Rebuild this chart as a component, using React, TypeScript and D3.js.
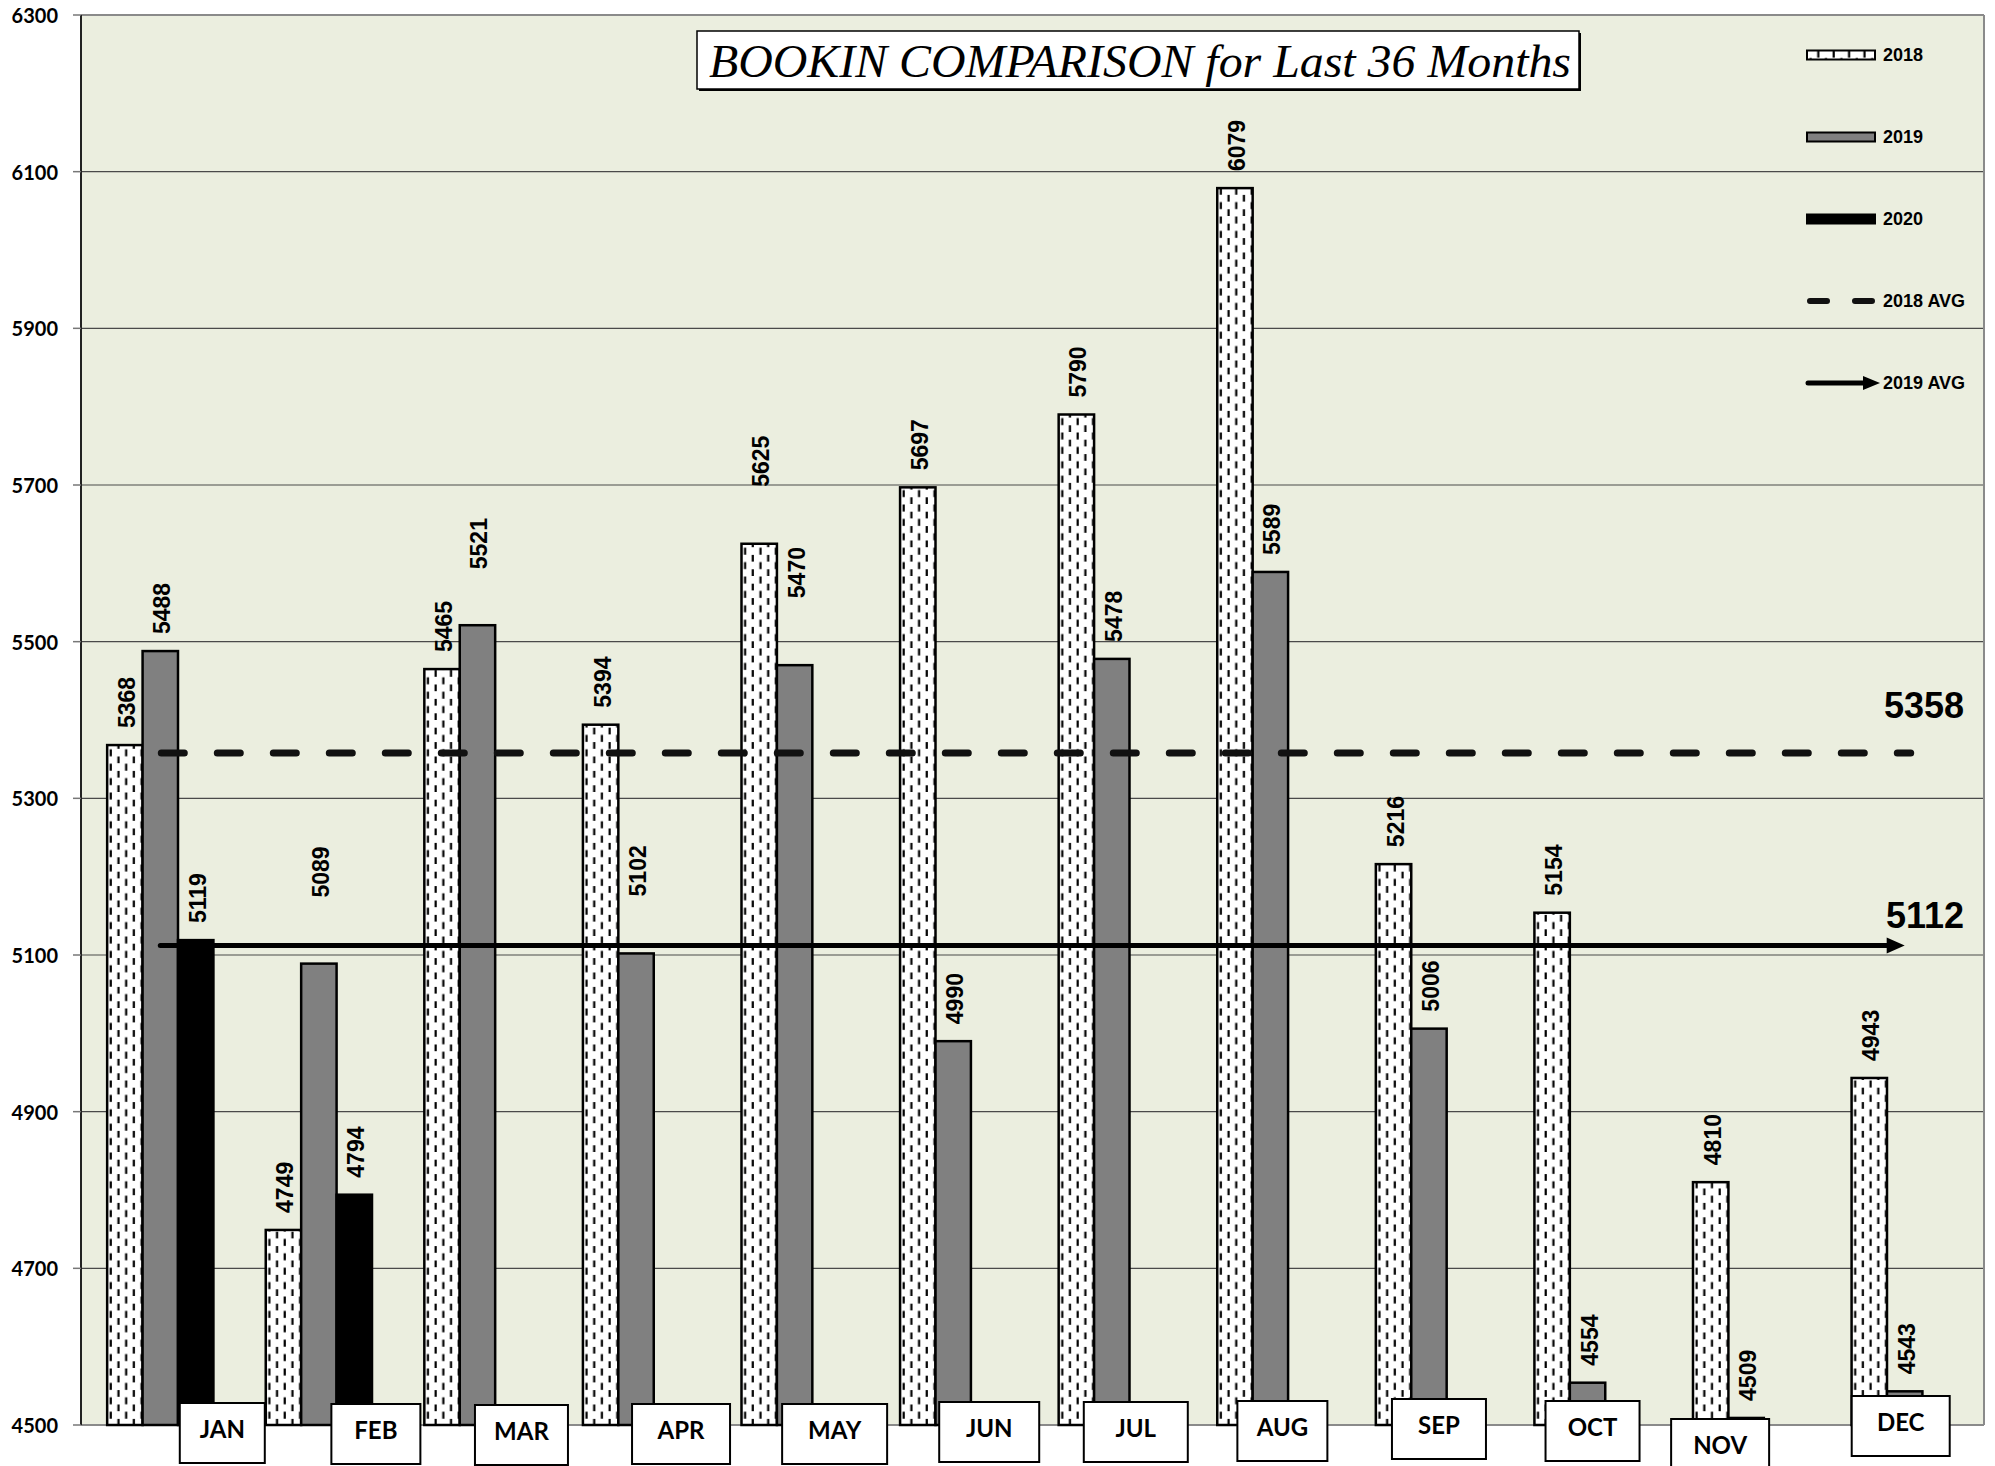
import React, { useEffect, useRef } from "react";
import * as d3 from "d3";

const months = ["JAN", "FEB", "MAR", "APR", "MAY", "JUN", "JUL", "AUG", "SEP", "OCT", "NOV", "DEC"];
const seriesNames = ["2018", "2019", "2020"];
const values2018 = [5368, 4749, 5465, 5394, 5625, 5697, 5790, 6079, 5216, 5154, 4810, 4943];
const values2019 = [5488, 5089, 5521, 5102, 5470, 4990, 5478, 5589, 5006, 4554, 4509, 4543];
const values2020 = [5119, 4794, null, null, null, null, null, null, null, null, null, null];
const avg2018 = 5358;
const avg2019 = 5112;
const yTicks = [4500, 4700, 4900, 5100, 5300, 5500, 5700, 5900, 6100, 6300];
const legendNames = ["2018", "2019", "2020", "2018 AVG", "2019 AVG"];

// hand-moved month boxes in the original (dx from band centre, dy from baseline, box width)
const monthBoxes = [
  [62, -22, 85], [57, -21, 89], [44, -20, 93], [45, -21, 98], [40, -21, 105], [36, -23, 100],
  [24, -23, 104], [12, -24, 90], [10, -26, 94], [5, -24, 94], [-26, -6, 98], [-4, -29, 98],
];
// value labels that were dragged higher than the rest
const labelLift: Record<string, number> = {
  "FEB-2019": 49, "MAR-2019": 39, "APR-2019": 40, "MAY-2018": 40, "MAY-2019": 50,
};

export default function App() {
  const svgRef = useRef<SVGSVGElement>(null);

  useEffect(() => {
    const svg = d3.select(svgRef.current);
    svg.selectAll("*").remove();

    const plot = { left: 81, right: 1984, top: 15, bottom: 1425 };
    const sans = "'Liberation Sans', Arial, sans-serif";
    const calib = "Lato, 'Open Sans', sans-serif";

    const x0 = d3.scaleBand().domain(months).range([plot.left, plot.right]).paddingInner(0.33).paddingOuter(0.165);
    const x1 = d3.scaleBand().domain(seriesNames).range([0, x0.bandwidth()]);
    const y = d3.scaleLinear().domain([4500, 6300]).range([plot.bottom, plot.top]);

    const table = months.map((m, i) => ({
      month: m,
      bars: [
        { key: "2018", v: values2018[i] },
        { key: "2019", v: values2019[i] },
        { key: "2020", v: values2020[i] },
      ].filter((d) => d.v != null) as { key: string; v: number }[],
    }));

    const defs = svg.append("defs");
    const pat = defs
      .append("pattern")
      .attr("id", "dashv")
      .attr("patternUnits", "userSpaceOnUse")
      .attr("width", 15.4)
      .attr("height", 14.4);
    pat.append("rect").attr("width", 15.4).attr("height", 14.4).attr("fill", "#fff");
    pat.append("rect").attr("x", 2.5).attr("y", 0.5).attr("width", 2.2).attr("height", 7).attr("fill", "#000");
    pat.append("rect").attr("x", 10.2).attr("y", 7.7).attr("width", 2.2).attr("height", 7).attr("fill", "#000");

    const fillOf = (k: string) => (k === "2018" ? "url(#dashv)" : k === "2019" ? "#808080" : "#000");

    // plot area
    svg
      .append("rect")
      .attr("x", plot.left)
      .attr("y", plot.top)
      .attr("width", plot.right - plot.left)
      .attr("height", plot.bottom - plot.top)
      .attr("fill", "#ebeedf");

    // gridlines
    svg
      .append("g")
      .selectAll("line")
      .data(yTicks.slice(1, -1))
      .enter()
      .append("line")
      .attr("x1", plot.left)
      .attr("x2", plot.right)
      .attr("y1", (d) => y(d))
      .attr("y2", (d) => y(d))
      .attr("stroke", "#4a4a4a")
      .attr("stroke-width", 1.2);

    // frame
    svg.append("line").attr("x1", plot.left).attr("x2", plot.right).attr("y1", plot.top).attr("y2", plot.top).attr("stroke", "#8a8a8a").attr("stroke-width", 2);
    svg.append("line").attr("x1", plot.right).attr("x2", plot.right).attr("y1", plot.top).attr("y2", plot.bottom).attr("stroke", "#8a8a8a").attr("stroke-width", 2);
    svg.append("line").attr("x1", plot.left).attr("x2", plot.right).attr("y1", plot.bottom).attr("y2", plot.bottom).attr("stroke", "#8a8a8a").attr("stroke-width", 2);

    // bars
    const groups = svg
      .append("g")
      .selectAll("g")
      .data(table)
      .enter()
      .append("g")
      .attr("transform", (d) => `translate(${x0(d.month)},0)`);

    groups
      .selectAll("rect")
      .data((d) => d.bars)
      .enter()
      .append("rect")
      .attr("x", (d) => x1(d.key)!)
      .attr("y", (d) => y(d.v))
      .attr("width", x1.bandwidth())
      .attr("height", (d) => y(4500) - y(d.v))
      .attr("fill", (d) => fillOf(d.key))
      .attr("stroke", "#000")
      .attr("stroke-width", 2.5);

    // left axis
    svg.append("line").attr("x1", plot.left).attr("x2", plot.left).attr("y1", plot.top).attr("y2", plot.bottom).attr("stroke", "#222").attr("stroke-width", 2);
    svg
      .append("g")
      .selectAll("line")
      .data(yTicks)
      .enter()
      .append("line")
      .attr("x1", 73)
      .attr("x2", plot.left)
      .attr("y1", (d) => y(d))
      .attr("y2", (d) => y(d))
      .attr("stroke", "#777")
      .attr("stroke-width", 1.5);
    svg
      .append("g")
      .selectAll("text")
      .data(yTicks)
      .enter()
      .append("text")
      .attr("x", 58)
      .attr("y", (d) => y(d))
      .attr("text-anchor", "end")
      .attr("dominant-baseline", "central")
      .style("font-family", calib)
      .style("font-weight", "bold")
      .style("font-size", "20px")
      .text((d) => d);

    // average lines
    const xa = x0("JAN")! + x0.bandwidth() / 2;
    const xb = x0("DEC")! + x0.bandwidth() / 2;
    svg
      .append("line")
      .attr("x1", xa + 1)
      .attr("x2", xb + 6)
      .attr("y1", y(avg2018))
      .attr("y2", y(avg2018))
      .attr("stroke", "#111")
      .attr("stroke-width", 7)
      .attr("stroke-linecap", "round")
      .attr("stroke-dasharray", "23 33");
    svg
      .append("line")
      .attr("x1", xa)
      .attr("x2", xb - 16)
      .attr("y1", y(avg2019))
      .attr("y2", y(avg2019))
      .attr("stroke", "#000")
      .attr("stroke-width", 5)
      .attr("stroke-linecap", "round");
    svg
      .append("path")
      .attr("d", `M${xb - 18},${y(avg2019) - 8}L${xb},${y(avg2019)}L${xb - 18},${y(avg2019) + 8}Z`)
      .attr("fill", "#000");

    svg
      .append("text")
      .attr("x", 1964)
      .attr("y", y(avg2018) - 35)
      .attr("text-anchor", "end")
      .style("font-family", sans)
      .style("font-weight", "bold")
      .style("font-size", "36px")
      .text(avg2018);
    svg
      .append("text")
      .attr("x", 1964)
      .attr("y", y(avg2019) - 18)
      .attr("text-anchor", "end")
      .style("font-family", sans)
      .style("font-weight", "bold")
      .style("font-size", "36px")
      .text(avg2019);

    // value labels
    groups
      .selectAll("text")
      .data((d) => d.bars.map((b) => ({ ...b, month: d.month })))
      .enter()
      .append("text")
      .attr("transform", (d) => {
        const cx = x1(d.key)! + x1.bandwidth() / 2 + 2;
        const lift = 17 + (labelLift[`${d.month}-${d.key}`] || 0);
        return `translate(${cx},${y(d.v) - lift}) rotate(-90)`;
      })
      .attr("text-anchor", "start")
      .attr("dominant-baseline", "central")
      .style("font-family", sans)
      .style("font-weight", "bold")
      .style("font-size", "23px")
      .text((d) => d.v);

    // legend
    const legend = svg.append("g").attr("transform", "translate(1807,0)");
    legendNames.forEach((name, i) => {
      const ly = 55 + i * 82;
      if (i < 3) {
        legend
          .append("rect")
          .attr("x", 0)
          .attr("y", ly - 4.5)
          .attr("width", 68)
          .attr("height", 9)
          .attr("fill", fillOf(seriesNames[i]))
          .attr("stroke", "#000")
          .attr("stroke-width", 2);
      } else if (i === 3) {
        legend
          .append("line")
          .attr("x1", 3)
          .attr("x2", 65)
          .attr("y1", ly)
          .attr("y2", ly)
          .attr("stroke", "#111")
          .attr("stroke-width", 6)
          .attr("stroke-linecap", "round")
          .attr("stroke-dasharray", "17 28");
      } else {
        legend
          .append("line")
          .attr("x1", 1)
          .attr("x2", 58)
          .attr("y1", ly)
          .attr("y2", ly)
          .attr("stroke", "#000")
          .attr("stroke-width", 5)
          .attr("stroke-linecap", "round");
        legend
          .append("path")
          .attr("d", `M56,${ly - 7}L73,${ly}L56,${ly + 7}Z`)
          .attr("fill", "#000");
      }
      legend
        .append("text")
        .attr("x", 76)
        .attr("y", ly)
        .attr("dominant-baseline", "central")
        .style("font-family", sans)
        .style("font-weight", "bold")
        .style("font-size", "18px")
        .text(name);
    });

    // title
    svg.append("rect").attr("x", 699).attr("y", 33).attr("width", 882).attr("height", 58).attr("fill", "#000");
    svg
      .append("rect")
      .attr("x", 697)
      .attr("y", 31)
      .attr("width", 882)
      .attr("height", 58)
      .attr("fill", "#fff")
      .attr("stroke", "#000")
      .attr("stroke-width", 1.5);
    svg
      .append("text")
      .attr("x", 1140)
      .attr("y", 77)
      .attr("text-anchor", "middle")
      .attr("textLength", 862)
      .attr("lengthAdjust", "spacingAndGlyphs")
      .style("font-family", "'Liberation Serif', 'Times New Roman', serif")
      .style("font-style", "italic")
      .style("font-size", "47px")
      .text("BOOKIN COMPARISON for Last 36 Months");

    // month label boxes
    const mb = svg
      .append("g")
      .selectAll("g")
      .data(months)
      .enter()
      .append("g")
      .attr("transform", (d, i) => {
        const [dx, dy] = monthBoxes[i];
        return `translate(${x0(d)! + x0.bandwidth() / 2 + dx},${y(4500) + dy})`;
      });
    mb.append("rect")
      .attr("x", (d, i) => -monthBoxes[i][2] / 2)
      .attr("y", 0)
      .attr("width", (d, i) => monthBoxes[i][2])
      .attr("height", 60)
      .attr("fill", "#fff")
      .attr("stroke", "#000")
      .attr("stroke-width", 2);
    mb.append("text")
      .attr("x", 0)
      .attr("y", 35)
      .attr("text-anchor", "middle")
      .style("font-family", calib)
      .style("font-weight", "bold")
      .style("font-size", "24px")
      .text((d) => d);
  }, []);

  return (
    <svg
      ref={svgRef}
      width={1995}
      height={1466}
      style={{ position: "absolute", left: 0, top: 0, background: "#fff" }}
    ></svg>
  );
}
